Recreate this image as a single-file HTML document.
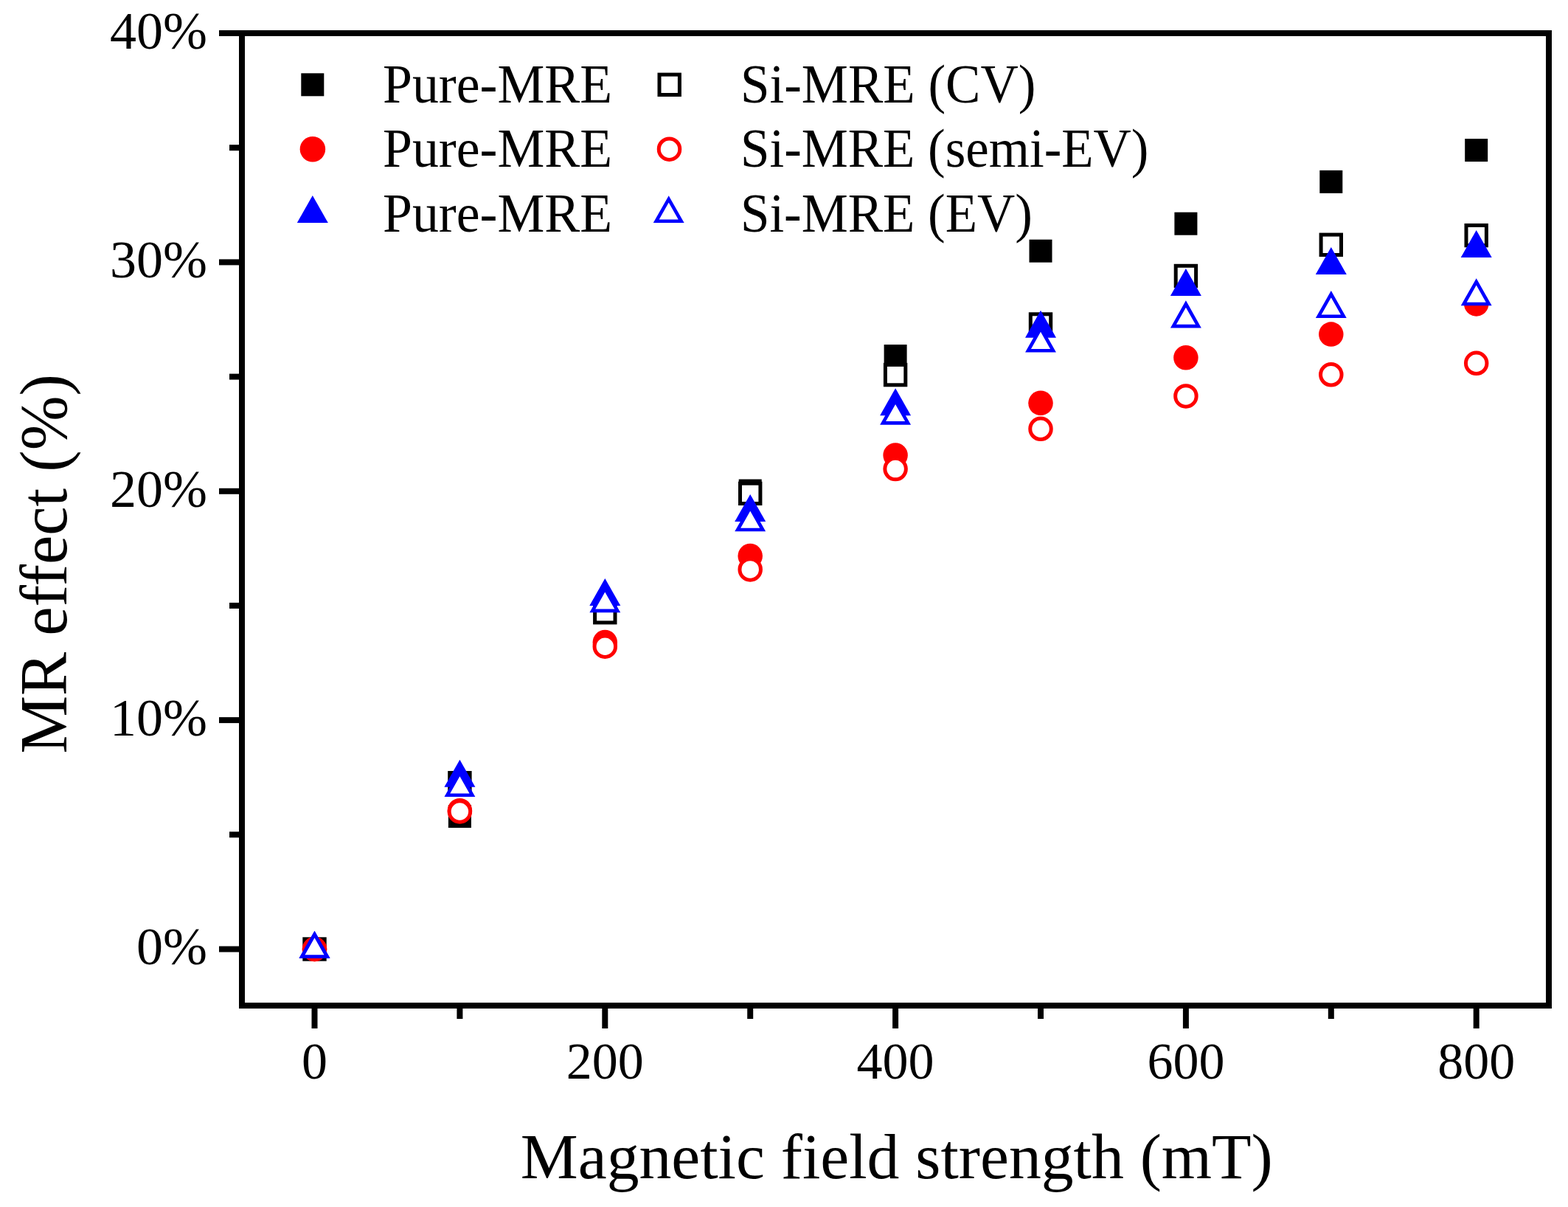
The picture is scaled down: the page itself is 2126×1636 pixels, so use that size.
<!DOCTYPE html>
<html><head><meta charset="utf-8"><title>MR effect vs magnetic field strength</title>
<style>
html,body{margin:0;padding:0;background:#fff;overflow:hidden;width:2126px;height:1636px;}
svg{display:block;}
text{font-family:"Liberation Serif","Times New Roman",serif;fill:#000;}
</style></head>
<body>
<svg width="2126" height="1636" viewBox="0 0 2126 1636">
<rect x="0" y="0" width="2126" height="1636" fill="#fff"/>
<g>
<rect x="411.0" y="1271.0" width="31.0" height="31.0" fill="#000"/>
<rect x="607.9" y="1091.0" width="31.0" height="31.0" fill="#000"/>
<rect x="804.8" y="814.7" width="31.0" height="31.0" fill="#000"/>
<rect x="1001.7" y="649.6" width="31.0" height="31.0" fill="#000"/>
<rect x="1198.6" y="467.1" width="31.0" height="31.0" fill="#000"/>
<rect x="1395.5" y="324.7" width="31.0" height="31.0" fill="#000"/>
<rect x="1592.4" y="287.7" width="31.0" height="31.0" fill="#000"/>
<rect x="1789.3" y="230.9" width="31.0" height="31.0" fill="#000"/>
<rect x="1986.2" y="188.1" width="31.0" height="31.0" fill="#000"/>
<rect x="412.8" y="1272.8" width="27.4" height="27.4" fill="#fff" stroke="#000" stroke-width="5.0"/>
<rect x="609.7" y="1047.5" width="27.4" height="27.4" fill="#fff" stroke="#000" stroke-width="5.0"/>
<rect x="806.6" y="816.5" width="27.4" height="27.4" fill="#fff" stroke="#000" stroke-width="5.0"/>
<rect x="1003.5" y="655.2" width="27.4" height="27.4" fill="#fff" stroke="#000" stroke-width="5.0"/>
<rect x="1200.4" y="494.4" width="27.4" height="27.4" fill="#fff" stroke="#000" stroke-width="5.0"/>
<rect x="1397.3" y="425.8" width="27.4" height="27.4" fill="#fff" stroke="#000" stroke-width="5.0"/>
<rect x="1594.2" y="360.3" width="27.4" height="27.4" fill="#fff" stroke="#000" stroke-width="5.0"/>
<rect x="1791.1" y="318.1" width="27.4" height="27.4" fill="#fff" stroke="#000" stroke-width="5.0"/>
<rect x="1988.0" y="305.4" width="27.4" height="27.4" fill="#fff" stroke="#000" stroke-width="5.0"/>
<circle cx="426.5" cy="1286.5" r="16.75" fill="#f00"/>
<circle cx="623.4" cy="1098.7" r="16.75" fill="#f00"/>
<circle cx="820.3" cy="870.6" r="16.75" fill="#f00"/>
<circle cx="1017.2" cy="753.6" r="16.75" fill="#f00"/>
<circle cx="1214.1" cy="617.0" r="16.75" fill="#f00"/>
<circle cx="1411.0" cy="546.3" r="16.75" fill="#f00"/>
<circle cx="1607.9" cy="484.8" r="16.75" fill="#f00"/>
<circle cx="1804.8" cy="453.1" r="16.75" fill="#f00"/>
<circle cx="2001.7" cy="411.9" r="16.75" fill="#f00"/>
<circle cx="426.5" cy="1286.5" r="14.25" fill="#fff" stroke="#f00" stroke-width="5.0"/>
<circle cx="623.4" cy="1100.0" r="14.25" fill="#fff" stroke="#f00" stroke-width="5.0"/>
<circle cx="820.3" cy="876.2" r="14.25" fill="#fff" stroke="#f00" stroke-width="5.0"/>
<circle cx="1017.2" cy="771.9" r="14.25" fill="#fff" stroke="#f00" stroke-width="5.0"/>
<circle cx="1214.1" cy="635.6" r="14.25" fill="#fff" stroke="#f00" stroke-width="5.0"/>
<circle cx="1411.0" cy="581.3" r="14.25" fill="#fff" stroke="#f00" stroke-width="5.0"/>
<circle cx="1607.9" cy="536.9" r="14.25" fill="#fff" stroke="#f00" stroke-width="5.0"/>
<circle cx="1804.8" cy="507.8" r="14.25" fill="#fff" stroke="#f00" stroke-width="5.0"/>
<circle cx="2001.7" cy="492.3" r="14.25" fill="#fff" stroke="#f00" stroke-width="5.0"/>
<polygon points="426.5,1261.8 447.5,1298.8 405.5,1298.8" fill="#00f"/>
<polygon points="623.4,1029.7 644.4,1066.7 602.4,1066.7" fill="#00f"/>
<polygon points="820.3,783.9 841.3,820.9 799.3,820.9" fill="#00f"/>
<polygon points="1017.2,669.9 1038.2,706.9 996.2,706.9" fill="#00f"/>
<polygon points="1214.1,526.2 1235.1,563.2 1193.1,563.2" fill="#00f"/>
<polygon points="1411.0,420.7 1432.0,457.7 1390.0,457.7" fill="#00f"/>
<polygon points="1607.9,363.9 1628.9,400.9 1586.9,400.9" fill="#00f"/>
<polygon points="1804.8,335.1 1825.8,372.1 1783.8,372.1" fill="#00f"/>
<polygon points="2001.7,312.1 2022.7,349.1 1980.7,349.1" fill="#00f"/>
<polygon points="426.5,1266.5 443.5,1296.5 409.5,1296.5" fill="#fff" stroke="#00f" stroke-width="4.6" stroke-linejoin="miter"/>
<polygon points="623.4,1047.7 640.4,1077.7 606.4,1077.7" fill="#fff" stroke="#00f" stroke-width="4.6" stroke-linejoin="miter"/>
<polygon points="820.3,797.8 837.3,827.9 803.3,827.9" fill="#fff" stroke="#00f" stroke-width="4.6" stroke-linejoin="miter"/>
<polygon points="1017.2,688.0 1034.2,718.0 1000.2,718.0" fill="#fff" stroke="#00f" stroke-width="4.6" stroke-linejoin="miter"/>
<polygon points="1214.1,543.3 1231.1,573.4 1197.1,573.4" fill="#fff" stroke="#00f" stroke-width="4.6" stroke-linejoin="miter"/>
<polygon points="1411.0,445.2 1428.0,475.3 1394.0,475.3" fill="#fff" stroke="#00f" stroke-width="4.6" stroke-linejoin="miter"/>
<polygon points="1607.9,412.0 1624.9,442.1 1590.9,442.1" fill="#fff" stroke="#00f" stroke-width="4.6" stroke-linejoin="miter"/>
<polygon points="1804.8,398.7 1821.8,428.7 1787.8,428.7" fill="#fff" stroke="#00f" stroke-width="4.6" stroke-linejoin="miter"/>
<polygon points="2001.7,381.9 2018.7,412.0 1984.7,412.0" fill="#fff" stroke="#00f" stroke-width="4.6" stroke-linejoin="miter"/>
</g>
<rect x="328" y="45" width="1772" height="1318" fill="none" stroke="#000" stroke-width="8"/>
<g stroke="#000" stroke-width="8">
<line x1="297" y1="1286.5" x2="328" y2="1286.5"/>
<line x1="297" y1="976.1" x2="328" y2="976.1"/>
<line x1="297" y1="665.8" x2="328" y2="665.8"/>
<line x1="297" y1="355.4" x2="328" y2="355.4"/>
<line x1="297" y1="45.0" x2="328" y2="45.0"/>
<line x1="311" y1="1131.3" x2="328" y2="1131.3"/>
<line x1="311" y1="820.9" x2="328" y2="820.9"/>
<line x1="311" y1="510.6" x2="328" y2="510.6"/>
<line x1="311" y1="200.2" x2="328" y2="200.2"/>
<line x1="426.5" y1="1363" x2="426.5" y2="1394"/>
<line x1="820.3" y1="1363" x2="820.3" y2="1394"/>
<line x1="1214.1" y1="1363" x2="1214.1" y2="1394"/>
<line x1="1607.9" y1="1363" x2="1607.9" y2="1394"/>
<line x1="2001.7" y1="1363" x2="2001.7" y2="1394"/>
<line x1="623.4" y1="1363" x2="623.4" y2="1381"/>
<line x1="1017.2" y1="1363" x2="1017.2" y2="1381"/>
<line x1="1411.0" y1="1363" x2="1411.0" y2="1381"/>
<line x1="1804.8" y1="1363" x2="1804.8" y2="1381"/>
</g>
<g font-size="70">
<text x="281" y="1307.2" text-anchor="end" font-size="72">0%</text>
<text x="281" y="996.8" text-anchor="end" font-size="72">10%</text>
<text x="281" y="686.5" text-anchor="end" font-size="72">20%</text>
<text x="281" y="376.1" text-anchor="end" font-size="72">30%</text>
<text x="281" y="65.7" text-anchor="end" font-size="72">40%</text>
<text x="426.5" y="1462" text-anchor="middle">0</text>
<text x="820.3" y="1462" text-anchor="middle">200</text>
<text x="1214.1" y="1462" text-anchor="middle">400</text>
<text x="1607.9" y="1462" text-anchor="middle">600</text>
<text x="2001.7" y="1462" text-anchor="middle">800</text>
</g>
<g>
<rect x="408.3" y="99.3" width="31.0" height="31.0" fill="#000"/>
<circle cx="423.9" cy="202.2" r="17.25" fill="#f00"/>
<polygon points="423.8,265.1 444.8,302.1 402.8,302.1" fill="#00f"/>
<rect x="894.0" y="101.1" width="27.4" height="27.4" fill="#fff" stroke="#000" stroke-width="5.0"/>
<circle cx="907.5" cy="202.2" r="14.25" fill="#fff" stroke="#f00" stroke-width="5.0"/>
<polygon points="906.7,269.8 923.7,299.8 889.7,299.8" fill="#fff" stroke="#00f" stroke-width="4.6" stroke-linejoin="miter"/>
</g>
<g font-size="75">
<text x="519" y="139.1" textLength="311" lengthAdjust="spacingAndGlyphs">Pure-MRE</text>
<text x="519" y="226.4" textLength="311" lengthAdjust="spacingAndGlyphs">Pure-MRE</text>
<text x="519" y="313.7" textLength="311" lengthAdjust="spacingAndGlyphs">Pure-MRE</text>
<text x="1004" y="139.1" textLength="400.4" lengthAdjust="spacingAndGlyphs">Si-MRE (CV)</text>
<text x="1004" y="226.4" textLength="553.4" lengthAdjust="spacingAndGlyphs">Si-MRE (semi-EV)</text>
<text x="1004" y="313.7" textLength="395.8" lengthAdjust="spacingAndGlyphs">Si-MRE (EV)</text>
</g>
<text x="705.8" y="1597" font-size="87.5" textLength="1020" lengthAdjust="spacingAndGlyphs">Magnetic field strength (mT)</text>
<text transform="translate(90,1021.6) rotate(-90)" x="0" y="0" font-size="92" textLength="514.6" lengthAdjust="spacingAndGlyphs">MR effect (%)</text>
</svg>
</body></html>
